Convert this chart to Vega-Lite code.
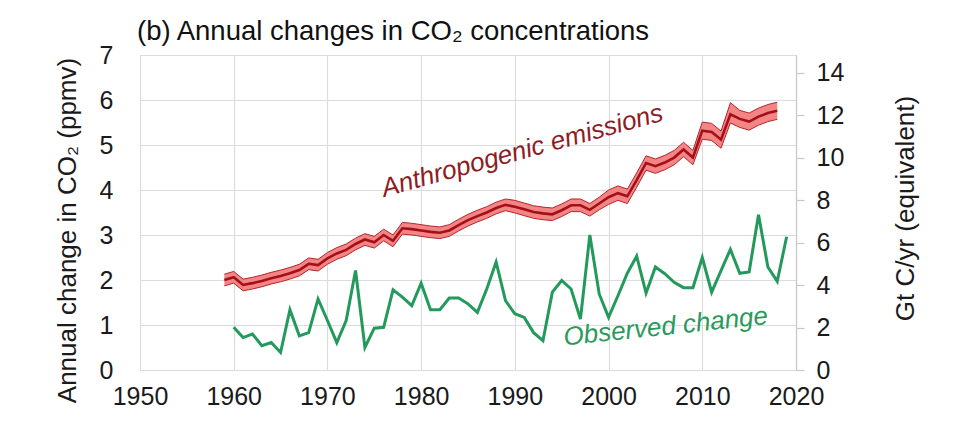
{
  "$schema": "https://vega.github.io/schema/vega-lite/v6.json",
  "width": 656,
  "height": 315,
  "autosize": "none",
  "padding": {"left": 140, "top": 55, "right": 164, "bottom": 67},
  "background": "white",
  "title": {
    "text": "(b) Annual changes in CO₂ concentrations",
    "anchor": "start",
    "frame": "group",
    "fontSize": 27.5,
    "fontWeight": "normal",
    "color": "#111111",
    "baseline": "alphabetic",
    "offset": -24,
    "dx": -3
  },
  "datasets": {
    "emissions": [
      {"year": 1959, "mid": 2.00, "lo": 1.87, "hi": 2.13},
      {"year": 1960, "mid": 2.06, "lo": 1.93, "hi": 2.19},
      {"year": 1961, "mid": 1.89, "lo": 1.76, "hi": 2.02},
      {"year": 1962, "mid": 1.93, "lo": 1.80, "hi": 2.06},
      {"year": 1963, "mid": 1.98, "lo": 1.85, "hi": 2.11},
      {"year": 1964, "mid": 2.04, "lo": 1.91, "hi": 2.17},
      {"year": 1965, "mid": 2.09, "lo": 1.96, "hi": 2.22},
      {"year": 1966, "mid": 2.15, "lo": 2.02, "hi": 2.28},
      {"year": 1967, "mid": 2.22, "lo": 2.09, "hi": 2.35},
      {"year": 1968, "mid": 2.36, "lo": 2.23, "hi": 2.49},
      {"year": 1969, "mid": 2.33, "lo": 2.20, "hi": 2.46},
      {"year": 1970, "mid": 2.48, "lo": 2.35, "hi": 2.61},
      {"year": 1971, "mid": 2.59, "lo": 2.46, "hi": 2.72},
      {"year": 1972, "mid": 2.67, "lo": 2.54, "hi": 2.80},
      {"year": 1973, "mid": 2.80, "lo": 2.67, "hi": 2.93},
      {"year": 1974, "mid": 2.90, "lo": 2.77, "hi": 3.03},
      {"year": 1975, "mid": 2.84, "lo": 2.71, "hi": 2.97},
      {"year": 1976, "mid": 3.00, "lo": 2.87, "hi": 3.13},
      {"year": 1977, "mid": 2.87, "lo": 2.74, "hi": 3.00},
      {"year": 1978, "mid": 3.15, "lo": 3.02, "hi": 3.28},
      {"year": 1979, "mid": 3.13, "lo": 3.00, "hi": 3.26},
      {"year": 1980, "mid": 3.10, "lo": 2.97, "hi": 3.23},
      {"year": 1981, "mid": 3.07, "lo": 2.94, "hi": 3.20},
      {"year": 1982, "mid": 3.05, "lo": 2.92, "hi": 3.18},
      {"year": 1983, "mid": 3.10, "lo": 2.97, "hi": 3.23},
      {"year": 1984, "mid": 3.22, "lo": 3.09, "hi": 3.35},
      {"year": 1985, "mid": 3.33, "lo": 3.20, "hi": 3.46},
      {"year": 1986, "mid": 3.42, "lo": 3.29, "hi": 3.55},
      {"year": 1987, "mid": 3.50, "lo": 3.37, "hi": 3.63},
      {"year": 1988, "mid": 3.60, "lo": 3.47, "hi": 3.73},
      {"year": 1989, "mid": 3.67, "lo": 3.54, "hi": 3.80},
      {"year": 1990, "mid": 3.63, "lo": 3.49, "hi": 3.77},
      {"year": 1991, "mid": 3.57, "lo": 3.43, "hi": 3.71},
      {"year": 1992, "mid": 3.51, "lo": 3.37, "hi": 3.65},
      {"year": 1993, "mid": 3.48, "lo": 3.34, "hi": 3.62},
      {"year": 1994, "mid": 3.46, "lo": 3.32, "hi": 3.60},
      {"year": 1995, "mid": 3.55, "lo": 3.41, "hi": 3.69},
      {"year": 1996, "mid": 3.66, "lo": 3.52, "hi": 3.80},
      {"year": 1997, "mid": 3.66, "lo": 3.52, "hi": 3.80},
      {"year": 1998, "mid": 3.56, "lo": 3.42, "hi": 3.70},
      {"year": 1999, "mid": 3.70, "lo": 3.56, "hi": 3.84},
      {"year": 2000, "mid": 3.84, "lo": 3.68, "hi": 4.00},
      {"year": 2001, "mid": 3.93, "lo": 3.77, "hi": 4.09},
      {"year": 2002, "mid": 3.86, "lo": 3.70, "hi": 4.02},
      {"year": 2003, "mid": 4.22, "lo": 4.06, "hi": 4.38},
      {"year": 2004, "mid": 4.60, "lo": 4.44, "hi": 4.76},
      {"year": 2005, "mid": 4.53, "lo": 4.37, "hi": 4.69},
      {"year": 2006, "mid": 4.61, "lo": 4.45, "hi": 4.77},
      {"year": 2007, "mid": 4.72, "lo": 4.56, "hi": 4.88},
      {"year": 2008, "mid": 4.90, "lo": 4.74, "hi": 5.06},
      {"year": 2009, "mid": 4.72, "lo": 4.56, "hi": 4.88},
      {"year": 2010, "mid": 5.32, "lo": 5.13, "hi": 5.51},
      {"year": 2011, "mid": 5.29, "lo": 5.10, "hi": 5.48},
      {"year": 2012, "mid": 5.12, "lo": 4.93, "hi": 5.31},
      {"year": 2013, "mid": 5.68, "lo": 5.49, "hi": 5.94},
      {"year": 2014, "mid": 5.58, "lo": 5.39, "hi": 5.77},
      {"year": 2015, "mid": 5.52, "lo": 5.33, "hi": 5.71},
      {"year": 2016, "mid": 5.63, "lo": 5.44, "hi": 5.82},
      {"year": 2017, "mid": 5.71, "lo": 5.52, "hi": 5.90},
      {"year": 2018, "mid": 5.76, "lo": 5.57, "hi": 5.95}
    ],
    "observed": [
      {"year": 1960, "ppm": 0.95}, {"year": 1961, "ppm": 0.72}, {"year": 1962, "ppm": 0.80},
      {"year": 1963, "ppm": 0.54}, {"year": 1964, "ppm": 0.61}, {"year": 1965, "ppm": 0.39},
      {"year": 1966, "ppm": 1.34}, {"year": 1967, "ppm": 0.76}, {"year": 1968, "ppm": 0.83},
      {"year": 1969, "ppm": 1.58}, {"year": 1970, "ppm": 1.10}, {"year": 1971, "ppm": 0.61},
      {"year": 1972, "ppm": 1.10}, {"year": 1973, "ppm": 2.21}, {"year": 1974, "ppm": 0.50},
      {"year": 1975, "ppm": 0.93}, {"year": 1976, "ppm": 0.95}, {"year": 1977, "ppm": 1.78},
      {"year": 1978, "ppm": 1.62}, {"year": 1979, "ppm": 1.43}, {"year": 1980, "ppm": 1.93},
      {"year": 1981, "ppm": 1.34}, {"year": 1982, "ppm": 1.34}, {"year": 1983, "ppm": 1.60},
      {"year": 1984, "ppm": 1.60}, {"year": 1985, "ppm": 1.47}, {"year": 1986, "ppm": 1.28},
      {"year": 1987, "ppm": 1.80}, {"year": 1988, "ppm": 2.40}, {"year": 1989, "ppm": 1.54},
      {"year": 1990, "ppm": 1.25}, {"year": 1991, "ppm": 1.17}, {"year": 1992, "ppm": 0.83},
      {"year": 1993, "ppm": 0.65}, {"year": 1994, "ppm": 1.73}, {"year": 1995, "ppm": 1.99},
      {"year": 1996, "ppm": 1.80}, {"year": 1997, "ppm": 1.13}, {"year": 1998, "ppm": 3.00},
      {"year": 1999, "ppm": 1.69}, {"year": 2000, "ppm": 1.17}, {"year": 2001, "ppm": 1.65},
      {"year": 2002, "ppm": 2.15}, {"year": 2003, "ppm": 2.53}, {"year": 2004, "ppm": 1.71},
      {"year": 2005, "ppm": 2.29}, {"year": 2006, "ppm": 2.14}, {"year": 2007, "ppm": 1.95},
      {"year": 2008, "ppm": 1.83}, {"year": 2009, "ppm": 1.83}, {"year": 2010, "ppm": 2.50},
      {"year": 2011, "ppm": 1.73}, {"year": 2012, "ppm": 2.21}, {"year": 2013, "ppm": 2.68},
      {"year": 2014, "ppm": 2.15}, {"year": 2015, "ppm": 2.18}, {"year": 2016, "ppm": 3.45},
      {"year": 2017, "ppm": 2.29}, {"year": 2018, "ppm": 1.97}, {"year": 2019, "ppm": 2.96}
    ],
    "labels": [
      {"label": "Anthropogenic emissions", "year": 1990.8, "ppm": 4.87, "series": "emissions"},
      {"label": "Observed change", "year": 2006.1, "ppm": 0.96, "series": "observed"}
    ],
    "gtcTicks": [{"gtc": 0}, {"gtc": 14}]
  },
  "config": {
    "font": "Liberation Sans",
    "view": {"stroke": "#d4d4d4", "strokeWidth": 1},
    "axis": {
      "labelFontSize": 25,
      "labelColor": "#1a1a1a",
      "titleFontSize": 26,
      "titleFontWeight": "normal",
      "titleColor": "#1a1a1a",
      "gridColor": "#dcdcdc",
      "gridWidth": 1.2,
      "labelFlush": false,
      "labelOverlap": false
    }
  },
  "layer": [
    {
      "layer": [
        {
          "data": {"name": "emissions"},
          "mark": {"type": "area", "color": "#f38585", "opacity": 1},
          "encoding": {
            "x": {"field": "year", "type": "quantitative", "scale": {"domain": [1950, 2020], "nice": false},
                  "axis": {"values": [1950, 1960, 1970, 1980, 1990, 2000, 2010, 2020], "format": "d", "title": null,
                           "grid": true, "ticks": false, "tickSize": 0, "domain": false, "labelPadding": 14}},
            "y": {"field": "lo", "type": "quantitative", "scale": {"domain": [0, 7], "nice": false},
                  "title": "Annual change in CO₂ (ppmv)",
                  "axis": {"values": [0, 1, 2, 3, 4, 5, 6, 7], "grid": true, "ticks": false, "tickSize": 0, "domain": false,
                           "labelPadding": 27, "titleAngle": 270, "titleX": -65, "titleY": 175,
                           "titleAlign": "center", "titleBaseline": "alphabetic"}},
            "y2": {"field": "hi"}
          }
        },
        {
          "data": {"name": "emissions"},
          "mark": {"type": "line", "color": "#b3262c", "strokeWidth": 1},
          "encoding": {
            "x": {"field": "year", "type": "quantitative", "scale": {"domain": [1950, 2020], "nice": false}},
            "y": {"field": "lo", "type": "quantitative", "scale": {"domain": [0, 7], "nice": false}, "title": "Annual change in CO₂ (ppmv)"}
          }
        },
        {
          "data": {"name": "emissions"},
          "mark": {"type": "line", "color": "#b3262c", "strokeWidth": 1},
          "encoding": {
            "x": {"field": "year", "type": "quantitative", "scale": {"domain": [1950, 2020], "nice": false}},
            "y": {"field": "hi", "type": "quantitative", "scale": {"domain": [0, 7], "nice": false}, "title": "Annual change in CO₂ (ppmv)"}
          }
        },
        {
          "data": {"name": "emissions"},
          "mark": {"type": "line", "color": "#a3101a", "strokeWidth": 2.6},
          "encoding": {
            "x": {"field": "year", "type": "quantitative", "scale": {"domain": [1950, 2020], "nice": false}},
            "y": {"field": "mid", "type": "quantitative", "scale": {"domain": [0, 7], "nice": false}, "title": "Annual change in CO₂ (ppmv)"}
          }
        },
        {
          "data": {"name": "observed"},
          "mark": {"type": "line", "color": "#239a5b", "strokeWidth": 3, "strokeJoin": "miter"},
          "encoding": {
            "x": {"field": "year", "type": "quantitative", "scale": {"domain": [1950, 2020], "nice": false}},
            "y": {"field": "ppm", "type": "quantitative", "scale": {"domain": [0, 7], "nice": false}, "title": "Annual change in CO₂ (ppmv)"}
          }
        },
        {
          "data": {"name": "labels"},
          "transform": [{"filter": "datum.series === 'emissions'"}],
          "mark": {"type": "text", "angle": 344.7, "fontSize": 26, "fontStyle": "italic", "color": "#8e1c24",
                   "align": "center", "baseline": "middle"},
          "encoding": {
            "x": {"field": "year", "type": "quantitative", "scale": {"domain": [1950, 2020], "nice": false}},
            "y": {"field": "ppm", "type": "quantitative", "scale": {"domain": [0, 7], "nice": false}, "title": "Annual change in CO₂ (ppmv)"},
            "text": {"field": "label"}
          }
        },
        {
          "data": {"name": "labels"},
          "transform": [{"filter": "datum.series === 'observed'"}],
          "mark": {"type": "text", "angle": 354, "fontSize": 26, "fontStyle": "italic", "color": "#2a9a5c",
                   "align": "center", "baseline": "middle"},
          "encoding": {
            "x": {"field": "year", "type": "quantitative", "scale": {"domain": [1950, 2020], "nice": false}},
            "y": {"field": "ppm", "type": "quantitative", "scale": {"domain": [0, 7], "nice": false}, "title": "Annual change in CO₂ (ppmv)"},
            "text": {"field": "label"}
          }
        }
      ]
    },
    {
      "data": {"name": "gtcTicks"},
      "mark": {"type": "tick", "opacity": 0},
      "encoding": {
        "y": {"field": "gtc", "type": "quantitative", "scale": {"domain": [0, 14.84], "nice": false, "zero": true},
              "title": "Gt C/yr (equivalent)",
              "axis": {"orient": "right", "values": [0, 2, 4, 6, 8, 10, 12, 14], "grid": false,
                       "domain": true, "domainColor": "#c8c8c8", "domainWidth": 1.2,
                       "ticks": true, "tickColor": "#c8c8c8", "tickSize": 8, "tickWidth": 1.2,
                       "labelPadding": 12, "titleAngle": 270, "titleX": 117, "titleY": 153,
                       "titleAlign": "center", "titleBaseline": "alphabetic"}}
      }
    }
  ],
  "resolve": {"scale": {"y": "independent"}, "axis": {"y": "independent"}}
}
